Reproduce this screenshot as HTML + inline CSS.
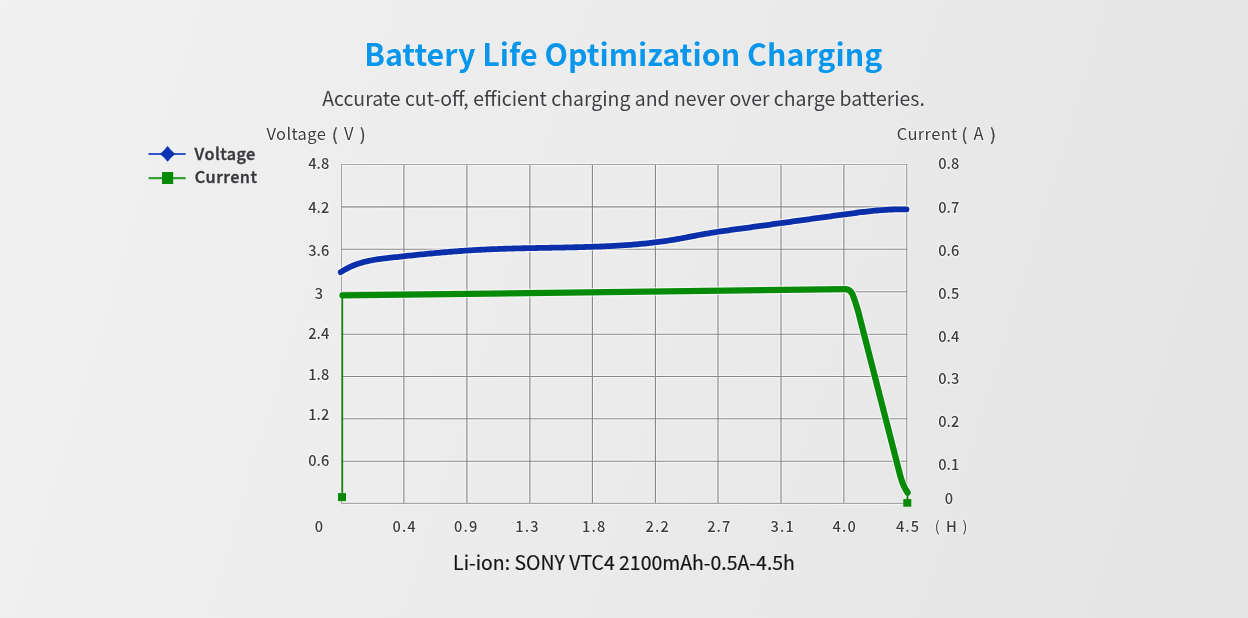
<!DOCTYPE html>
<html><head><meta charset="utf-8"><title>Battery Life Optimization Charging</title>
<style>
html,body{margin:0;padding:0;}
body{width:1248px;height:618px;overflow:hidden;position:relative;
background:linear-gradient(107deg,#f1f1f1 0%,#ebebeb 50%,#e4e4e4 100%);
font-family:"Noto Sans CJK SC","Liberation Sans",sans-serif;}
h1{margin:0;position:absolute;left:-0.75px;width:1248px;top:38.2px;text-align:center;font-size:30.4px;font-weight:700;color:#0a96ea;line-height:1;text-shadow:0 0 1.5px rgba(255,255,255,0.9);}
.sub{position:absolute;left:-0.5px;width:1248px;top:88.1px;text-align:center;font-size:19.45px;color:#3e3e43;line-height:1;text-shadow:0 0 1px rgba(255,255,255,0.9);}
.cap{position:absolute;left:0;width:1248px;top:551.9px;text-align:center;font-size:19.45px;color:#141414;line-height:1;-webkit-text-stroke:0.2px #141414;text-shadow:0 0 1px rgba(255,255,255,0.9);}
svg{position:absolute;left:0;top:0;}
svg text{font-family:"Noto Sans CJK SC","Liberation Sans",sans-serif;}
.halo text{paint-order:stroke;stroke:rgba(255,255,255,0.7);stroke-width:1.6px;stroke-linejoin:round;}
</style></head>
<body>
<h1>Battery Life Optimization Charging</h1>
<div class="sub">Accurate cut-off, efficient charging and never over charge batteries.</div>
<svg width="1248" height="618" viewBox="0 0 1248 618">
<g stroke="#ffffff" stroke-width="3.2" stroke-opacity="0.55">
<line x1="341.50" y1="164.50" x2="341.50" y2="503.30"/>
<line x1="403.90" y1="164.50" x2="403.90" y2="503.30"/>
<line x1="466.90" y1="164.50" x2="466.90" y2="503.30"/>
<line x1="529.90" y1="164.50" x2="529.90" y2="503.30"/>
<line x1="592.40" y1="164.50" x2="592.40" y2="503.30"/>
<line x1="655.40" y1="164.50" x2="655.40" y2="503.30"/>
<line x1="718.00" y1="164.50" x2="718.00" y2="503.30"/>
<line x1="781.00" y1="164.50" x2="781.00" y2="503.30"/>
<line x1="843.90" y1="164.50" x2="843.90" y2="503.30"/>
<line x1="906.70" y1="164.50" x2="906.70" y2="503.30"/>
<line x1="341.50" y1="164.50" x2="906.70" y2="164.50"/>
<line x1="341.50" y1="206.80" x2="906.70" y2="206.80"/>
<line x1="341.50" y1="249.20" x2="906.70" y2="249.20"/>
<line x1="341.50" y1="291.70" x2="906.70" y2="291.70"/>
<line x1="341.50" y1="334.20" x2="906.70" y2="334.20"/>
<line x1="341.50" y1="376.50" x2="906.70" y2="376.50"/>
<line x1="341.50" y1="418.70" x2="906.70" y2="418.70"/>
<line x1="341.50" y1="461.20" x2="906.70" y2="461.20"/>
<line x1="341.50" y1="503.30" x2="906.70" y2="503.30"/>
</g>
<g stroke-width="1.15">
<line x1="341.50" y1="164.00" x2="341.50" y2="503.80" stroke="#a6a6a6"/>
<line x1="403.90" y1="164.00" x2="403.90" y2="503.80" stroke="#878787"/>
<line x1="466.90" y1="164.00" x2="466.90" y2="503.80" stroke="#878787"/>
<line x1="529.90" y1="164.00" x2="529.90" y2="503.80" stroke="#878787"/>
<line x1="592.40" y1="164.00" x2="592.40" y2="503.80" stroke="#878787"/>
<line x1="655.40" y1="164.00" x2="655.40" y2="503.80" stroke="#878787"/>
<line x1="718.00" y1="164.00" x2="718.00" y2="503.80" stroke="#878787"/>
<line x1="781.00" y1="164.00" x2="781.00" y2="503.80" stroke="#878787"/>
<line x1="843.90" y1="164.00" x2="843.90" y2="503.80" stroke="#878787"/>
<line x1="906.70" y1="164.00" x2="906.70" y2="503.80" stroke="#9c9c9c"/>
<line x1="341.00" y1="164.50" x2="907.20" y2="164.50" stroke="#a6a6a6"/>
<line x1="341.00" y1="206.80" x2="907.20" y2="206.80" stroke="#878787"/>
<line x1="341.00" y1="249.20" x2="907.20" y2="249.20" stroke="#878787"/>
<line x1="341.00" y1="291.70" x2="907.20" y2="291.70" stroke="#878787"/>
<line x1="341.00" y1="334.20" x2="907.20" y2="334.20" stroke="#878787"/>
<line x1="341.00" y1="376.50" x2="907.20" y2="376.50" stroke="#878787"/>
<line x1="341.00" y1="418.70" x2="907.20" y2="418.70" stroke="#878787"/>
<line x1="341.00" y1="461.20" x2="907.20" y2="461.20" stroke="#878787"/>
<line x1="341.00" y1="503.30" x2="907.20" y2="503.30" stroke="#a6a6a6"/>
</g>
<g fill="none" stroke-linecap="round" stroke-linejoin="round" stroke="#ffffff" stroke-opacity="0.6">
<path d="M342.5,295.4 L845.5,289.1 C848.6,289.0 850.6,290.6 852.4,294.2 C854.2,298 855.8,303.5 858.2,311.5 L900.2,475.5 C901.5,480.5 903.3,486.5 907.6,492.6" stroke-width="8.6"/>
<path d="M340.70,272.10 L342.70,270.85 L344.70,269.69 L346.70,268.60 L348.70,267.59 L350.70,266.65 L352.70,265.78 L354.70,264.98 L356.70,264.24 L358.70,263.55 L360.70,262.92 L362.70,262.35 L364.70,261.82 L366.70,261.33 L368.70,260.89 L370.70,260.48 L372.70,260.11 L374.70,259.76 L376.70,259.45 L378.70,259.16 L380.70,258.88 L382.70,258.63 L384.70,258.38 L386.70,258.15 L388.70,257.92 L390.70,257.69 L392.70,257.47 L394.70,257.24 L396.70,257.02 L398.70,256.80 L400.70,256.58 L402.70,256.36 L404.70,256.15 L406.70,255.93 L408.70,255.72 L410.70,255.51 L412.70,255.30 L414.70,255.09 L416.70,254.88 L418.70,254.68 L420.70,254.48 L422.70,254.28 L424.70,254.08 L426.70,253.88 L428.70,253.69 L430.70,253.50 L432.70,253.31 L434.70,253.13 L436.70,252.95 L438.70,252.77 L440.70,252.59 L442.70,252.42 L444.70,252.24 L446.70,252.08 L448.70,251.91 L450.70,251.75 L452.70,251.59 L454.70,251.43 L456.70,251.28 L458.70,251.13 L460.70,250.99 L462.70,250.85 L464.70,250.71 L466.70,250.57 L468.70,250.44 L470.70,250.32 L472.70,250.19 L474.70,250.07 L476.70,249.96 L478.70,249.85 L480.70,249.74 L482.70,249.64 L484.70,249.54 L486.70,249.45 L488.70,249.36 L490.70,249.27 L492.70,249.18 L494.70,249.10 L496.70,249.03 L498.70,248.95 L500.70,248.88 L502.70,248.82 L504.70,248.75 L506.70,248.69 L508.70,248.63 L510.70,248.57 L512.70,248.52 L514.70,248.46 L516.70,248.41 L518.70,248.37 L520.70,248.32 L522.70,248.27 L524.70,248.23 L526.70,248.19 L528.70,248.15 L530.70,248.11 L532.70,248.07 L534.70,248.03 L536.70,247.99 L538.70,247.96 L540.70,247.92 L542.70,247.89 L544.70,247.85 L546.70,247.82 L548.70,247.78 L550.70,247.75 L552.70,247.71 L554.70,247.67 L556.70,247.64 L558.70,247.60 L560.70,247.57 L562.70,247.53 L564.70,247.49 L566.70,247.45 L568.70,247.41 L570.70,247.36 L572.70,247.32 L574.70,247.27 L576.70,247.23 L578.70,247.18 L580.70,247.13 L582.70,247.07 L584.70,247.02 L586.70,246.96 L588.70,246.90 L590.70,246.84 L592.70,246.77 L594.70,246.70 L596.70,246.63 L598.70,246.56 L600.70,246.48 L602.70,246.40 L604.70,246.31 L606.70,246.22 L608.70,246.13 L610.70,246.03 L612.70,245.93 L614.70,245.82 L616.70,245.71 L618.70,245.59 L620.70,245.47 L622.70,245.34 L624.70,245.20 L626.70,245.07 L628.70,244.92 L630.70,244.77 L632.70,244.61 L634.70,244.45 L636.70,244.28 L638.70,244.10 L640.70,243.91 L642.70,243.72 L644.70,243.52 L646.70,243.32 L648.70,243.10 L650.70,242.88 L652.70,242.65 L654.70,242.41 L656.70,242.16 L658.70,241.91 L660.70,241.64 L662.70,241.37 L664.70,241.09 L666.70,240.80 L668.70,240.50 L670.70,240.18 L672.70,239.86 L674.70,239.53 L676.70,239.19 L678.70,238.84 L680.70,238.48 L682.70,238.11 L684.70,237.73 L686.70,237.34 L688.70,236.95 L690.70,236.56 L692.70,236.17 L694.70,235.78 L696.70,235.40 L698.70,235.02 L700.70,234.65 L702.70,234.29 L704.70,233.94 L706.70,233.60 L708.70,233.27 L710.70,232.94 L712.70,232.62 L714.70,232.31 L716.70,232.00 L718.70,231.70 L720.70,231.41 L722.70,231.12 L724.70,230.83 L726.70,230.55 L728.70,230.27 L730.70,229.99 L732.70,229.72 L734.70,229.44 L736.70,229.17 L738.70,228.90 L740.70,228.63 L742.70,228.35 L744.70,228.08 L746.70,227.81 L748.70,227.54 L750.70,227.26 L752.70,226.99 L754.70,226.72 L756.70,226.44 L758.70,226.17 L760.70,225.89 L762.70,225.62 L764.70,225.34 L766.70,225.07 L768.70,224.79 L770.70,224.52 L772.70,224.24 L774.70,223.97 L776.70,223.69 L778.70,223.42 L780.70,223.14 L782.70,222.87 L784.70,222.59 L786.70,222.31 L788.70,222.04 L790.70,221.76 L792.70,221.49 L794.70,221.21 L796.70,220.93 L798.70,220.66 L800.70,220.38 L802.70,220.11 L804.70,219.83 L806.70,219.55 L808.70,219.28 L810.70,219.00 L812.70,218.73 L814.70,218.45 L816.70,218.18 L818.70,217.90 L820.70,217.63 L822.70,217.35 L824.70,217.08 L826.70,216.80 L828.70,216.53 L830.70,216.26 L832.70,215.98 L834.70,215.71 L836.70,215.44 L838.70,215.16 L840.70,214.89 L842.70,214.62 L844.70,214.35 L846.70,214.07 L848.70,213.80 L850.70,213.54 L852.70,213.27 L854.70,213.01 L856.70,212.75 L858.70,212.49 L860.70,212.24 L862.70,212.00 L864.70,211.76 L866.70,211.53 L868.70,211.31 L870.70,211.10 L872.70,210.89 L874.70,210.70 L876.70,210.51 L878.70,210.34 L880.70,210.18 L882.70,210.03 L884.70,209.89 L886.70,209.77 L888.70,209.66 L890.70,209.57 L892.70,209.49 L894.70,209.43 L896.70,209.39 L898.70,209.36 L900.70,209.35 L902.70,209.36 L904.70,209.39 L906.50,209.44" stroke-width="8.2"/>
</g>
<g fill="none" stroke-linecap="round" stroke-linejoin="round">
<line x1="342.4" y1="295" x2="342.4" y2="494" stroke="#078a07" stroke-width="1.5"/>
<line x1="907.6" y1="492" x2="907.6" y2="500" stroke="#078a07" stroke-width="1.5"/>
<path d="M342.5,295.4 L845.5,289.1 C848.6,289.0 850.6,290.6 852.4,294.2 C854.2,298 855.8,303.5 858.2,311.5 L900.2,475.5 C901.5,480.5 903.3,486.5 907.6,492.6" stroke="#078a07" stroke-width="6.3"/>
<path d="M340.70,272.10 L342.70,270.85 L344.70,269.69 L346.70,268.60 L348.70,267.59 L350.70,266.65 L352.70,265.78 L354.70,264.98 L356.70,264.24 L358.70,263.55 L360.70,262.92 L362.70,262.35 L364.70,261.82 L366.70,261.33 L368.70,260.89 L370.70,260.48 L372.70,260.11 L374.70,259.76 L376.70,259.45 L378.70,259.16 L380.70,258.88 L382.70,258.63 L384.70,258.38 L386.70,258.15 L388.70,257.92 L390.70,257.69 L392.70,257.47 L394.70,257.24 L396.70,257.02 L398.70,256.80 L400.70,256.58 L402.70,256.36 L404.70,256.15 L406.70,255.93 L408.70,255.72 L410.70,255.51 L412.70,255.30 L414.70,255.09 L416.70,254.88 L418.70,254.68 L420.70,254.48 L422.70,254.28 L424.70,254.08 L426.70,253.88 L428.70,253.69 L430.70,253.50 L432.70,253.31 L434.70,253.13 L436.70,252.95 L438.70,252.77 L440.70,252.59 L442.70,252.42 L444.70,252.24 L446.70,252.08 L448.70,251.91 L450.70,251.75 L452.70,251.59 L454.70,251.43 L456.70,251.28 L458.70,251.13 L460.70,250.99 L462.70,250.85 L464.70,250.71 L466.70,250.57 L468.70,250.44 L470.70,250.32 L472.70,250.19 L474.70,250.07 L476.70,249.96 L478.70,249.85 L480.70,249.74 L482.70,249.64 L484.70,249.54 L486.70,249.45 L488.70,249.36 L490.70,249.27 L492.70,249.18 L494.70,249.10 L496.70,249.03 L498.70,248.95 L500.70,248.88 L502.70,248.82 L504.70,248.75 L506.70,248.69 L508.70,248.63 L510.70,248.57 L512.70,248.52 L514.70,248.46 L516.70,248.41 L518.70,248.37 L520.70,248.32 L522.70,248.27 L524.70,248.23 L526.70,248.19 L528.70,248.15 L530.70,248.11 L532.70,248.07 L534.70,248.03 L536.70,247.99 L538.70,247.96 L540.70,247.92 L542.70,247.89 L544.70,247.85 L546.70,247.82 L548.70,247.78 L550.70,247.75 L552.70,247.71 L554.70,247.67 L556.70,247.64 L558.70,247.60 L560.70,247.57 L562.70,247.53 L564.70,247.49 L566.70,247.45 L568.70,247.41 L570.70,247.36 L572.70,247.32 L574.70,247.27 L576.70,247.23 L578.70,247.18 L580.70,247.13 L582.70,247.07 L584.70,247.02 L586.70,246.96 L588.70,246.90 L590.70,246.84 L592.70,246.77 L594.70,246.70 L596.70,246.63 L598.70,246.56 L600.70,246.48 L602.70,246.40 L604.70,246.31 L606.70,246.22 L608.70,246.13 L610.70,246.03 L612.70,245.93 L614.70,245.82 L616.70,245.71 L618.70,245.59 L620.70,245.47 L622.70,245.34 L624.70,245.20 L626.70,245.07 L628.70,244.92 L630.70,244.77 L632.70,244.61 L634.70,244.45 L636.70,244.28 L638.70,244.10 L640.70,243.91 L642.70,243.72 L644.70,243.52 L646.70,243.32 L648.70,243.10 L650.70,242.88 L652.70,242.65 L654.70,242.41 L656.70,242.16 L658.70,241.91 L660.70,241.64 L662.70,241.37 L664.70,241.09 L666.70,240.80 L668.70,240.50 L670.70,240.18 L672.70,239.86 L674.70,239.53 L676.70,239.19 L678.70,238.84 L680.70,238.48 L682.70,238.11 L684.70,237.73 L686.70,237.34 L688.70,236.95 L690.70,236.56 L692.70,236.17 L694.70,235.78 L696.70,235.40 L698.70,235.02 L700.70,234.65 L702.70,234.29 L704.70,233.94 L706.70,233.60 L708.70,233.27 L710.70,232.94 L712.70,232.62 L714.70,232.31 L716.70,232.00 L718.70,231.70 L720.70,231.41 L722.70,231.12 L724.70,230.83 L726.70,230.55 L728.70,230.27 L730.70,229.99 L732.70,229.72 L734.70,229.44 L736.70,229.17 L738.70,228.90 L740.70,228.63 L742.70,228.35 L744.70,228.08 L746.70,227.81 L748.70,227.54 L750.70,227.26 L752.70,226.99 L754.70,226.72 L756.70,226.44 L758.70,226.17 L760.70,225.89 L762.70,225.62 L764.70,225.34 L766.70,225.07 L768.70,224.79 L770.70,224.52 L772.70,224.24 L774.70,223.97 L776.70,223.69 L778.70,223.42 L780.70,223.14 L782.70,222.87 L784.70,222.59 L786.70,222.31 L788.70,222.04 L790.70,221.76 L792.70,221.49 L794.70,221.21 L796.70,220.93 L798.70,220.66 L800.70,220.38 L802.70,220.11 L804.70,219.83 L806.70,219.55 L808.70,219.28 L810.70,219.00 L812.70,218.73 L814.70,218.45 L816.70,218.18 L818.70,217.90 L820.70,217.63 L822.70,217.35 L824.70,217.08 L826.70,216.80 L828.70,216.53 L830.70,216.26 L832.70,215.98 L834.70,215.71 L836.70,215.44 L838.70,215.16 L840.70,214.89 L842.70,214.62 L844.70,214.35 L846.70,214.07 L848.70,213.80 L850.70,213.54 L852.70,213.27 L854.70,213.01 L856.70,212.75 L858.70,212.49 L860.70,212.24 L862.70,212.00 L864.70,211.76 L866.70,211.53 L868.70,211.31 L870.70,211.10 L872.70,210.89 L874.70,210.70 L876.70,210.51 L878.70,210.34 L880.70,210.18 L882.70,210.03 L884.70,209.89 L886.70,209.77 L888.70,209.66 L890.70,209.57 L892.70,209.49 L894.70,209.43 L896.70,209.39 L898.70,209.36 L900.70,209.35 L902.70,209.36 L904.70,209.39 L906.50,209.44" stroke="#0b2eaa" stroke-width="5.8"/>
</g>
<rect x="338" y="493.1" width="8" height="8" fill="#078a07"/>
<rect x="903.3" y="499.1" width="8" height="7.6" fill="#078a07"/>
<!-- legend -->
<line x1="148.5" y1="154" x2="185.7" y2="154" stroke="#3556c6" stroke-width="2.1"/>
<path d="M167.6,146.1 Q170.9,150.5 175.2,154 Q170.9,157.5 167.6,161.8 Q164.3,157.5 160,154 Q164.3,150.5 167.6,146.1 Z" fill="#0c33b4"/>
<line x1="148.5" y1="178.1" x2="185.7" y2="178.1" stroke="#35a035" stroke-width="2.1"/>
<rect x="162" y="172" width="11.2" height="12" fill="#078a07"/>
<g class="halo" font-size="14.6" font-weight="500" fill="#3c3c40">
<text x="318.8" y="169.4" text-anchor="middle">4.8</text>
<text x="318.8" y="212.6" text-anchor="middle">4.2</text>
<text x="318.8" y="255.8" text-anchor="middle">3.6</text>
<text x="318.8" y="298.5" text-anchor="middle">3</text>
<text x="318.8" y="339.2" text-anchor="middle">2.4</text>
<text x="318.8" y="379.6" text-anchor="middle">1.8</text>
<text x="318.8" y="419.6" text-anchor="middle">1.2</text>
<text x="318.8" y="465.6" text-anchor="middle">0.6</text>
<text x="948.8" y="169.4" text-anchor="middle">0.8</text>
<text x="948.8" y="212.6" text-anchor="middle">0.7</text>
<text x="948.8" y="255.8" text-anchor="middle">0.6</text>
<text x="948.8" y="298.5" text-anchor="middle">0.5</text>
<text x="948.8" y="341.7" text-anchor="middle">0.4</text>
<text x="948.8" y="384.4" text-anchor="middle">0.3</text>
<text x="948.8" y="426.7" text-anchor="middle">0.2</text>
<text x="948.8" y="469.5" text-anchor="middle">0.1</text>
<text x="948.8" y="503.8" text-anchor="middle">0</text>
</g>
<g class="halo" font-size="14.6" font-weight="500" fill="#3c3c40" letter-spacing="1.1">
<text x="319.35" y="531.9" text-anchor="middle">0</text>
<text x="404.65" y="531.9" text-anchor="middle">0.4</text>
<text x="466.25" y="531.9" text-anchor="middle">0.9</text>
<text x="527.45" y="531.9" text-anchor="middle">1.3</text>
<text x="594.25" y="531.9" text-anchor="middle">1.8</text>
<text x="657.75" y="531.9" text-anchor="middle">2.2</text>
<text x="719.35" y="531.9" text-anchor="middle">2.7</text>
<text x="782.75" y="531.9" text-anchor="middle">3.1</text>
<text x="844.75" y="531.9" text-anchor="middle">4.0</text>
<text x="908.05" y="531.9" text-anchor="middle">4.5</text>
</g>
<g class="halo" font-size="16.5" fill="#3c3c40" letter-spacing="0.35">
<text x="266.5" y="139.8">Voltage</text>
<text x="896.8" y="140.2">Current</text>
</g>
<g class="halo" font-size="16.6" fill="#3c3c40" text-anchor="middle">
<text x="348.7" y="139.7">V</text>
<text x="978.5" y="139.9">A</text>
</g>
<g font-size="16.5" fill="#3c3c40">
<text x="332.0" y="140.7" stroke="#3c3c40" stroke-width="0.3">(</text>
<text x="360.1" y="140.7" stroke="#3c3c40" stroke-width="0.3">)</text>
<text x="961.4" y="140.7" stroke="#3c3c40" stroke-width="0.3">(</text>
<text x="990.2" y="140.7" stroke="#3c3c40" stroke-width="0.3">)</text>
</g>
<g class="halo" font-size="14.5" fill="#3c3c40">
<text x="934.8" y="531.9">(</text>
<text x="962.4" y="531.9">)</text>
</g>
<g class="halo" font-size="14.6" font-weight="500" fill="#3c3c40">
<text x="946.0" y="531.9">H</text>
</g>
<g font-size="16.3" font-weight="500" fill="#38383d" stroke="#38383d" stroke-width="0.4" letter-spacing="0.45">
<text x="194.6" y="159.8">Voltage</text>
<text x="194.8" y="182.5">Current</text>
</g>
</svg>
<div class="cap">Li-ion: SONY VTC4 2100mAh-0.5A-4.5h</div>
</body></html>
